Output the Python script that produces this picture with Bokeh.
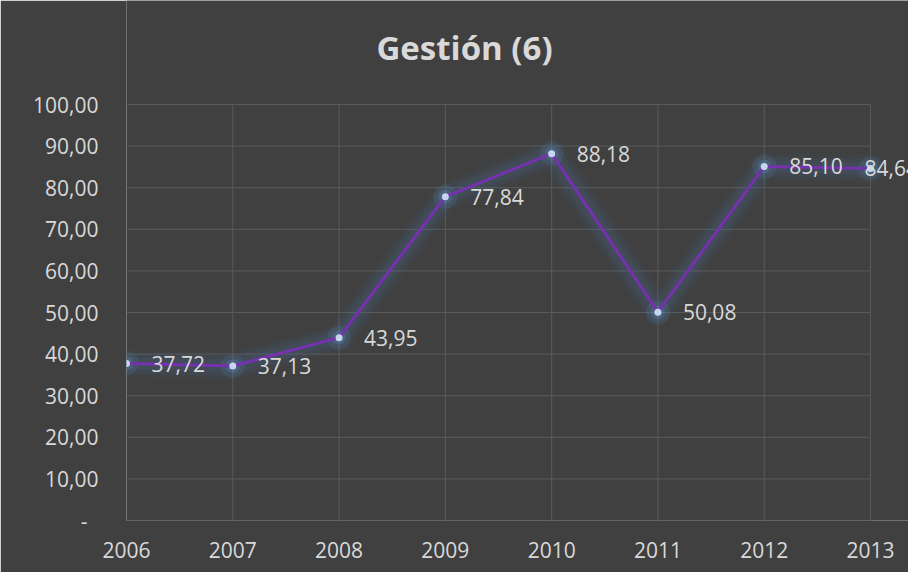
from bokeh.plotting import figure
from bokeh.models import ColumnDataSource, LabelSet, Label, FixedTicker
from bokeh.core.properties import value
from bokeh.embed import file_html
from bokeh.resources import INLINE

# ---- data ----
years = [2006, 2007, 2008, 2009, 2010, 2011, 2012, 2013]
values = [37.72, 37.13, 43.95, 77.84, 88.18, 50.08, 85.10, 84.64]
y_ticks = [0, 10, 20, 30, 40, 50, 60, 70, 80, 90, 100]
title_text = "Gestión (6)"

def es_fmt(v):
    return f"{v:.2f}".replace(".", ",")

labels = [es_fmt(v) for v in values]
y_tick_labels = {t: ("-\u00a0\u00a0" if t == 0 else es_fmt(t)) for t in y_ticks}

BG = "#404040"
TXT = "#d9d9d9"
GRID = "#5a5a5a"
AXIS = "#7a7a7a"
FONT = "Open Sans"

# layout (pixels)
W, H = 908, 572
LEFT, BOTTOM = 126, 52
LAST_X_PX = 870           # pixel x of the last year
TOP_Y_PX = 104            # pixel y of the top tick (100)
TITLE_X_PX, TITLE_Y_PX = 464, 47
px_per_year = (LAST_X_PX - LEFT) / (years[-1] - years[0])
x_end = years[-1] + (W - LAST_X_PX) / px_per_year
px_per_unit = (H - BOTTOM - TOP_Y_PX) / (y_ticks[-1] - y_ticks[0])
y_end = y_ticks[-1] + TOP_Y_PX / px_per_unit

# label offsets: to the right, except the last one which is pulled back left
dx = [25] * (len(years) - 1) + [-6]

src = ColumnDataSource(dict(x=years, y=values, lab=labels, dx=dx))

p = figure(width=W, height=H, output_backend="svg", toolbar_location=None,
           x_range=(years[0], x_end), y_range=(y_ticks[0], y_end),
           min_border_left=LEFT, min_border_right=0, min_border_top=0,
           min_border_bottom=BOTTOM)
p.background_fill_color = BG
p.border_fill_color = BG
p.outline_line_color = None
p.xgrid.visible = False
p.ygrid.visible = False

# grid lines limited to the data area (built from the tick lists)
n_y, n_x = len(y_ticks), len(years)
p.segment(x0=[years[0]] * n_y, x1=[years[-1]] * n_y, y0=y_ticks, y1=y_ticks,
          line_color=GRID, line_width=1)
p.segment(x0=years[1:], x1=years[1:], y0=[y_ticks[0]] * (n_x - 1),
          y1=[y_ticks[-1]] * (n_x - 1), line_color=GRID, line_width=1)
# vertical axis line at the first year
p.segment(x0=[years[0]], x1=[years[0]], y0=[y_ticks[0]], y1=[y_ticks[-1]],
          line_color=AXIS, line_width=1)

# axes (labels only)
p.xaxis.ticker = FixedTicker(ticks=years)
p.yaxis.ticker = FixedTicker(ticks=y_ticks)
p.yaxis.major_label_overrides = y_tick_labels
for ax in (p.xaxis[0], p.yaxis[0]):
    ax.axis_line_color = None
    ax.major_tick_line_color = None
    ax.minor_tick_line_color = None
    ax.major_tick_out = 0
    ax.major_tick_in = 0
    ax.major_label_text_font = FONT
    ax.major_label_text_font_size = "21px"
    ax.major_label_text_color = TXT
p.yaxis.major_label_standoff = 28
p.xaxis.major_label_standoff = 21

# title as a label above the data area
title = Label(x=years[0] + (TITLE_X_PX - LEFT) / px_per_year,
              y=y_ticks[-1] + (TOP_Y_PX - TITLE_Y_PX) / px_per_unit,
              text=title_text, text_align="center", text_baseline="middle",
              text_font=FONT, text_font_style="bold", text_font_size="33px",
              text_color=TXT)
p.add_layout(title)

# glow
GLOW = "#4a7ab0"
for w, a in ((28, 0.06), (20, 0.08), (12, 0.10)):
    p.line("x", "y", source=src, line_color=GLOW, line_width=w, line_alpha=a,
           line_join="round", line_cap="round")
p.scatter("x", "y", source=src, size=24, fill_color="#5b9bd5", fill_alpha=0.12,
          line_color=None)
p.scatter("x", "y", source=src, size=14, fill_color="#5b9bd5", fill_alpha=0.22,
          line_color=None)
# main line
p.line("x", "y", source=src, line_color="#7432ae", line_width=3)
p.scatter("x", "y", source=src, size=7, fill_color="#c5d6ef", line_color=None)

lbl = LabelSet(x="x", y="y", text="lab", source=src, x_offset="dx", y_offset=0,
               text_baseline="middle", text_align="left",
               text_font=value(FONT), text_font_size=value("21px"),
               text_color=value(TXT))
p.add_layout(lbl)

open("out.html", "w").write(file_html(p, INLINE))
